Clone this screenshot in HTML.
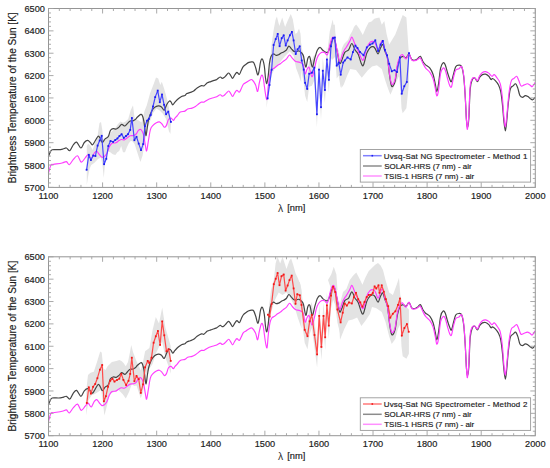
<!DOCTYPE html>
<html><head><meta charset="utf-8"><style>
html,body{margin:0;padding:0;background:#fff;}
svg{display:block;}
text{font-family:"Liberation Sans",sans-serif;fill:#1c1c1c;stroke:#1c1c1c;stroke-width:0.18px;}
.tk{font-size:9.2px;}
.yt{font-size:10.1px;}
.xt{font-size:9.3px;}
.lg{}
</style></head><body>
<svg width="550" height="468" viewBox="0 0 550 468">
<rect width="550" height="468" fill="#fff"/>
<polygon points="86.8,146.0 88.2,143.5 90.5,146.0 92.7,150.0 95.0,142.5 97.2,138.0 99.5,123.0 101.0,122.0 102.3,130.0 103.2,139.5 105.8,138.2 107.7,135.6 110.3,133.0 112.8,130.5 115.4,128.0 118.0,124.1 120.5,121.5 123.0,122.8 125.6,121.5 128.2,119.0 130.8,110.0 133.0,105.3 134.7,119.1 138.3,120.2 141.5,122.4 144.7,110.6 146.8,105.3 150.0,93.5 153.3,85.0 156.0,77.5 158.2,78.5 160.3,85.0 161.8,81.8 164.0,88.2 166.7,97.8 168.9,107.4 170.4,119.1 171.0,122.0 171.0,122.0 170.4,134.1 168.9,130.9 166.1,119.1 162.9,113.8 159.7,110.6 156.5,108.5 153.3,112.7 150.0,121.3 146.8,132.0 144.7,142.6 142.6,155.5 140.4,161.9 138.3,155.5 136.5,150.0 134.6,144.0 132.7,141.4 130.8,140.8 128.8,143.3 126.9,147.2 125.0,152.3 123.0,152.3 121.2,145.9 119.2,151.0 117.3,152.3 115.4,154.9 112.8,154.2 110.3,152.3 107.0,151.0 105.1,162.0 103.8,178.0 102.5,165.0 101.0,157.4 98.0,159.0 94.2,163.0 91.2,165.0 89.5,169.0 88.0,177.0 86.8,185.0" fill="#e3e3e3" stroke="none"/>
<polygon points="266.6,100.0 269.1,72.1 271.5,45.0 273.5,30.8 275.5,20.0 276.9,16.4 279.3,26.0 282.2,17.4 285.1,27.0 288.0,20.0 290.8,14.0 292.8,19.3 295.2,33.7 297.0,33.0 299.0,28.4 300.5,33.7 301.2,45.0 301.2,82.4 298.6,74.7 296.1,68.3 293.5,55.4 289.6,51.6 284.5,56.7 279.4,63.1 275.5,67.0 271.7,74.7 269.1,87.5 266.6,108.0" fill="#e3e3e3" stroke="none"/>
<polygon points="340.5,55.0 342.0,48.0 344.0,44.0 346.0,42.0 348.0,40.0 350.0,35.0 352.2,31.2 354.0,27.0 356.1,24.5 359.0,28.3 362.8,35.1 365.7,28.3 368.6,22.6 371.5,21.6 374.3,18.7 377.0,18.0 379.4,17.4 381.8,24.7 384.3,21.0 386.7,34.6 389.2,44.4 392.0,40.0 395.3,34.6 399.0,24.7 402.7,14.9 406.4,17.4 408.9,54.2 408.9,54.2 408.9,83.7 406.4,108.3 402.7,113.2 401.5,108.3 400.5,90.0 399.0,76.3 395.3,83.7 392.5,90.0 390.4,94.8 388.0,88.6 385.5,81.3 381.8,69.0 376.9,65.3 372.0,66.5 367.6,70.5 361.8,77.7 356.0,70.0 350.2,69.0 347.0,76.0 343.9,84.2 341.5,88.0 340.5,80.0" fill="#e3e3e3" stroke="none"/>
<polygon points="297.6,36.3 299.7,33.3 301.7,47.5 303.7,56.6 305.1,69.8 307.2,75.9 309.2,60.7 311.9,59.7 314.3,54.6 316.9,101.3 319.0,56.6 321.0,94.2 322.8,57.7 324.9,77.0 326.9,46.5 328.9,66.8 331.0,33.3 333.0,25.1 334.8,24.5 336.7,52.6 338.7,49.5 340.7,61.7 343.2,49.5 344.8,47.5 344.8,73.5 343.2,75.5 340.7,87.7 338.7,75.5 336.7,78.6 334.8,50.5 333.0,51.1 331.0,59.3 328.9,92.8 326.9,72.5 324.9,103.0 322.8,83.7 321.0,120.2 319.0,82.6 316.9,127.3 314.3,80.6 311.9,85.7 309.2,86.7 307.2,101.9 305.1,95.8 303.7,82.6 301.7,73.5 299.7,59.3 297.6,62.3" fill="#e3e3e3" stroke="none"/>
<polygon points="327.5,50.0 329.8,31.2 332.7,19.5 335.6,37.0 337.0,55.0 332.0,60.0" fill="#e3e3e3" stroke="none"/>
<path d="M48.40 157.00C48.68 156.23 49.47 153.62 50.10 152.40C50.73 151.18 50.77 150.15 52.20 149.70C53.63 149.25 56.90 149.82 58.70 149.70C60.50 149.58 61.72 149.28 63.00 149.00C64.28 148.72 65.27 147.72 66.40 148.00C67.53 148.28 68.67 151.20 69.80 150.70C70.93 150.20 72.07 146.43 73.20 145.00C74.33 143.57 75.32 141.60 76.60 142.10C77.88 142.60 79.62 147.93 80.90 148.00C82.18 148.07 83.17 143.77 84.30 142.50C85.43 141.23 86.67 140.35 87.70 140.40C88.73 140.45 89.68 142.07 90.50 142.80C91.32 143.53 91.83 145.10 92.60 144.80C93.37 144.50 94.17 142.43 95.10 141.00C96.03 139.57 97.33 136.62 98.20 136.20C99.07 135.78 99.60 137.47 100.30 138.50C101.00 139.53 101.60 142.35 102.40 142.40C103.20 142.45 104.12 139.78 105.10 138.80C106.08 137.82 107.42 137.88 108.30 136.50C109.18 135.12 109.60 131.80 110.40 130.50C111.20 129.20 112.12 128.95 113.10 128.70C114.08 128.45 115.32 129.27 116.30 129.00C117.28 128.73 118.10 127.87 119.00 127.10C119.90 126.33 120.72 124.58 121.70 124.40C122.68 124.22 123.93 126.17 124.90 126.00C125.87 125.83 126.62 124.23 127.50 123.40C128.38 122.57 129.28 121.43 130.20 121.00C131.12 120.57 132.15 121.05 133.00 120.80C133.85 120.55 134.55 120.13 135.30 119.50C136.05 118.87 136.60 117.85 137.50 117.00C138.40 116.15 139.90 114.67 140.70 114.40C141.50 114.13 141.77 114.25 142.30 115.40C142.83 116.55 143.45 118.87 143.90 121.30C144.35 123.73 144.63 127.63 145.00 130.00C145.37 132.37 145.73 135.83 146.10 135.50C146.47 135.17 146.77 130.72 147.20 128.00C147.63 125.28 148.00 121.92 148.70 119.20C149.40 116.48 150.42 113.67 151.40 111.70C152.38 109.73 153.45 108.38 154.60 107.40C155.75 106.42 157.15 105.88 158.30 105.80C159.45 105.72 160.52 106.18 161.50 106.90C162.48 107.62 163.30 110.55 164.20 110.10C165.10 109.65 166.02 105.72 166.90 104.20C167.78 102.68 168.80 101.35 169.50 101.00C170.20 100.65 170.57 101.47 171.10 102.10C171.63 102.73 172.05 104.80 172.70 104.80C173.35 104.80 174.02 103.15 175.00 102.10C175.98 101.05 177.43 99.48 178.60 98.50C179.77 97.52 180.95 96.70 182.00 96.20C183.05 95.70 184.10 95.93 184.90 95.50C185.70 95.07 185.90 94.12 186.80 93.60C187.70 93.08 189.15 92.83 190.30 92.40C191.45 91.97 192.57 91.73 193.70 91.00C194.83 90.27 195.82 88.90 197.10 88.00C198.38 87.10 200.27 85.95 201.40 85.60C202.53 85.25 202.90 86.37 203.90 85.90C204.90 85.43 206.25 83.52 207.40 82.80C208.55 82.08 209.67 82.00 210.80 81.60C211.93 81.20 213.20 80.77 214.20 80.40C215.20 80.03 215.80 79.97 216.80 79.40C217.80 78.83 219.33 77.18 220.20 77.00C221.07 76.82 221.37 78.20 222.00 78.30C222.63 78.40 223.25 78.15 224.00 77.60C224.75 77.05 225.72 75.77 226.50 75.00C227.28 74.23 228.00 72.92 228.70 73.00C229.40 73.08 230.05 74.62 230.70 75.50C231.35 76.38 231.93 78.38 232.60 78.30C233.27 78.22 233.98 76.00 234.70 75.00C235.42 74.00 236.13 72.40 236.90 72.30C237.67 72.20 238.58 74.68 239.30 74.40C240.02 74.12 240.55 71.88 241.20 70.60C241.85 69.32 242.40 67.75 243.20 66.70C244.00 65.65 245.05 65.02 246.00 64.30C246.95 63.58 247.90 62.80 248.90 62.40C249.90 62.00 251.18 61.83 252.00 61.90C252.82 61.97 253.15 61.70 253.80 62.80C254.45 63.90 255.27 66.50 255.90 68.50C256.53 70.50 257.10 74.23 257.60 74.80C258.10 75.37 258.40 74.10 258.90 71.90C259.40 69.70 260.02 63.73 260.60 61.60C261.18 59.47 261.78 58.37 262.40 59.10C263.02 59.83 263.78 62.85 264.30 66.00C264.82 69.15 265.08 75.08 265.50 78.00C265.92 80.92 266.33 84.00 266.80 83.50C267.27 83.00 267.85 78.42 268.30 75.00C268.75 71.58 269.05 66.08 269.50 63.00C269.95 59.92 270.33 58.02 271.00 56.50C271.67 54.98 272.67 54.10 273.50 53.90C274.33 53.70 275.15 55.15 276.00 55.30C276.85 55.45 277.73 55.17 278.60 54.80C279.47 54.43 280.35 53.58 281.20 53.10C282.05 52.62 282.85 52.38 283.70 51.90C284.55 51.42 285.45 51.15 286.30 50.20C287.15 49.25 287.95 46.43 288.80 46.20C289.65 45.97 290.53 47.93 291.40 48.80C292.27 49.67 293.15 50.95 294.00 51.40C294.85 51.85 295.67 51.57 296.50 51.50C297.33 51.43 298.13 50.75 299.00 51.00C299.87 51.25 300.95 52.17 301.70 53.00C302.45 53.83 302.82 53.67 303.50 56.00C304.18 58.33 305.08 66.58 305.80 67.00C306.52 67.42 307.13 60.17 307.80 58.50C308.47 56.83 309.05 55.58 309.80 57.00C310.55 58.42 311.48 66.75 312.30 67.00C313.12 67.25 313.87 61.28 314.70 58.50C315.53 55.72 316.42 52.17 317.30 50.30C318.18 48.43 319.08 47.30 320.00 47.30C320.92 47.30 321.78 49.45 322.80 50.30C323.82 51.15 325.15 52.23 326.10 52.40C327.05 52.57 327.68 52.83 328.50 51.30C329.32 49.77 330.25 45.33 331.00 43.20C331.75 41.07 332.33 38.83 333.00 38.50C333.67 38.17 334.22 38.55 335.00 41.20C335.78 43.85 336.92 50.68 337.70 54.40C338.48 58.12 339.03 62.48 339.70 63.50C340.37 64.52 340.85 62.35 341.70 60.50C342.55 58.65 343.65 54.17 344.80 52.40C345.95 50.63 347.43 51.38 348.60 49.90C349.77 48.42 350.73 43.50 351.80 43.50C352.87 43.50 353.93 48.12 355.00 49.90C356.07 51.68 357.13 51.88 358.20 54.20C359.27 56.52 360.52 62.02 361.40 63.80C362.28 65.58 362.60 66.68 363.50 64.90C364.40 63.12 365.72 55.95 366.80 53.10C367.88 50.25 368.93 48.87 370.00 47.80C371.07 46.73 372.32 46.53 373.20 46.70C374.08 46.87 374.48 47.62 375.30 48.80C376.12 49.98 377.22 53.97 378.10 53.80C378.98 53.63 379.82 49.33 380.60 47.80C381.38 46.27 382.08 44.07 382.80 44.60C383.52 45.13 384.12 48.68 384.90 51.00C385.68 53.32 386.72 54.40 387.50 58.50C388.28 62.60 388.97 71.15 389.60 75.60C390.23 80.05 390.73 83.43 391.30 85.20C391.87 86.97 392.35 86.92 393.00 86.20C393.65 85.48 394.48 84.10 395.20 80.90C395.92 77.70 396.52 70.73 397.30 67.00C398.08 63.27 398.93 60.28 399.90 58.50C400.87 56.72 402.08 56.38 403.10 56.30C404.12 56.22 405.02 58.35 406.00 58.00C406.98 57.65 408.03 53.95 409.00 54.20C409.97 54.45 410.80 58.50 411.80 59.50C412.80 60.50 414.05 60.30 415.00 60.20C415.95 60.10 416.62 59.55 417.50 58.90C418.38 58.25 419.37 55.83 420.30 56.30C421.23 56.77 422.22 60.27 423.10 61.70C423.98 63.13 424.47 63.83 425.60 64.90C426.73 65.97 428.65 66.50 429.90 68.10C431.15 69.70 432.20 71.83 433.10 74.50C434.00 77.17 434.68 81.25 435.30 84.10C435.92 86.95 436.27 91.60 436.80 91.60C437.33 91.60 437.87 88.02 438.50 84.10C439.13 80.18 439.82 71.67 440.60 68.10C441.38 64.53 442.42 63.23 443.20 62.70C443.98 62.17 444.62 63.35 445.30 64.90C445.98 66.45 446.60 69.73 447.30 72.00C448.00 74.27 448.82 76.88 449.50 78.50C450.18 80.12 450.73 82.42 451.40 81.70C452.07 80.98 452.78 76.70 453.50 74.20C454.22 71.70 454.80 68.20 455.70 66.70C456.60 65.20 457.90 65.20 458.90 65.20C459.90 65.20 460.88 64.67 461.70 66.70C462.52 68.73 463.20 72.23 463.80 77.40C464.40 82.57 464.87 90.75 465.30 97.70C465.73 104.65 466.05 114.12 466.40 119.10C466.75 124.08 467.00 127.62 467.40 127.60C467.80 127.58 468.33 125.42 468.80 119.00C469.27 112.58 469.60 95.68 470.20 89.10C470.80 82.52 471.62 81.35 472.40 79.50C473.18 77.65 474.05 77.63 474.90 78.00C475.75 78.37 476.72 81.80 477.50 81.70C478.28 81.60 478.78 78.58 479.60 77.40C480.42 76.22 481.40 75.13 482.40 74.60C483.40 74.07 484.53 73.92 485.60 74.20C486.67 74.48 487.90 75.42 488.80 76.30C489.70 77.18 490.38 79.13 491.00 79.50C491.62 79.87 491.78 78.32 492.50 78.50C493.22 78.68 494.30 79.53 495.30 80.60C496.30 81.67 497.60 83.12 498.50 84.90C499.40 86.68 500.05 88.10 500.70 91.30C501.35 94.50 501.87 99.12 502.40 104.10C502.93 109.08 503.40 116.75 503.90 121.20C504.40 125.65 504.93 130.80 505.40 130.80C505.87 130.80 506.23 125.65 506.70 121.20C507.17 116.75 507.60 109.45 508.20 104.10C508.80 98.75 509.48 92.13 510.30 89.10C511.12 86.07 512.22 86.78 513.10 85.90C513.98 85.02 514.82 83.43 515.60 83.80C516.38 84.17 517.08 86.13 517.80 88.10C518.52 90.07 519.12 94.07 519.90 95.60C520.68 97.13 521.60 97.30 522.50 97.30C523.40 97.30 524.38 95.72 525.30 95.60C526.22 95.48 527.12 96.07 528.00 96.60C528.88 97.13 529.82 98.27 530.60 98.80C531.38 99.33 531.97 100.05 532.70 99.80C533.43 99.55 534.62 97.72 535.00 97.30" fill="none" stroke="#454545" stroke-width="1.2" stroke-linejoin="round"/>
<path d="M48.40 173.20C48.83 171.83 50.15 166.47 51.00 165.00C51.85 163.53 51.65 164.73 53.50 164.40C55.35 164.07 59.95 163.47 62.10 163.00C64.25 162.53 65.20 161.32 66.40 161.60C67.60 161.88 68.17 165.03 69.30 164.70C70.43 164.37 71.83 161.08 73.20 159.60C74.57 158.12 76.17 155.38 77.50 155.80C78.83 156.22 79.92 161.75 81.20 162.10C82.48 162.45 84.05 159.12 85.20 157.90C86.35 156.68 87.10 154.67 88.10 154.80C89.10 154.93 90.17 159.00 91.20 158.70C92.23 158.40 93.37 154.23 94.30 153.00C95.23 151.77 95.95 151.02 96.80 151.30C97.65 151.58 98.53 153.70 99.40 154.70C100.27 155.70 101.18 157.00 102.00 157.30C102.82 157.60 103.52 157.08 104.30 156.50C105.08 155.92 105.85 155.42 106.70 153.80C107.55 152.18 108.52 148.55 109.40 146.80C110.28 145.05 110.93 143.97 112.00 143.30C113.07 142.63 114.63 143.25 115.80 142.80C116.97 142.35 118.05 141.15 119.00 140.60C119.95 140.05 120.62 139.62 121.50 139.50C122.38 139.38 123.38 140.15 124.30 139.90C125.22 139.65 126.02 138.68 127.00 138.00C127.98 137.32 129.10 136.22 130.20 135.80C131.30 135.38 132.60 135.80 133.60 135.50C134.60 135.20 135.40 134.85 136.20 134.00C137.00 133.15 137.60 131.13 138.40 130.40C139.20 129.67 140.15 128.88 141.00 129.60C141.85 130.32 142.78 132.13 143.50 134.70C144.22 137.27 144.78 142.30 145.30 145.00C145.82 147.70 146.10 151.48 146.60 150.90C147.10 150.32 147.67 145.05 148.30 141.50C148.93 137.95 149.62 132.30 150.40 129.60C151.18 126.90 152.00 126.45 153.00 125.30C154.00 124.15 155.33 123.27 156.40 122.70C157.47 122.13 158.47 121.68 159.40 121.90C160.33 122.12 161.20 123.12 162.00 124.00C162.80 124.88 163.48 126.93 164.20 127.20C164.92 127.47 165.58 126.88 166.30 125.60C167.02 124.32 167.70 120.75 168.50 119.50C169.30 118.25 170.30 117.97 171.10 118.10C171.90 118.23 172.65 120.30 173.30 120.30C173.95 120.30 174.38 118.82 175.00 118.10C175.62 117.38 176.12 117.00 177.00 116.00C177.88 115.00 178.98 112.92 180.30 112.10C181.62 111.28 183.67 111.62 184.90 111.10C186.13 110.58 186.52 109.50 187.70 109.00C188.88 108.50 190.72 108.53 192.00 108.10C193.28 107.67 194.27 107.12 195.40 106.40C196.53 105.68 197.80 104.52 198.80 103.80C199.80 103.08 200.55 102.38 201.40 102.10C202.25 101.82 202.90 102.47 203.90 102.10C204.90 101.73 206.12 100.55 207.40 99.90C208.68 99.25 210.18 98.68 211.60 98.20C213.02 97.72 214.47 97.57 215.90 97.00C217.33 96.43 219.18 94.95 220.20 94.80C221.22 94.65 221.37 95.98 222.00 96.10C222.63 96.22 223.28 95.98 224.00 95.50C224.72 95.02 225.52 93.95 226.30 93.20C227.08 92.45 227.97 90.95 228.70 91.00C229.43 91.05 230.05 92.58 230.70 93.50C231.35 94.42 231.93 96.58 232.60 96.50C233.27 96.42 233.98 94.03 234.70 93.00C235.42 91.97 236.13 90.43 236.90 90.30C237.67 90.17 238.58 92.45 239.30 92.20C240.02 91.95 240.55 90.08 241.20 88.80C241.85 87.52 242.40 85.53 243.20 84.50C244.00 83.47 245.05 83.23 246.00 82.60C246.95 81.97 247.90 81.18 248.90 80.70C249.90 80.22 250.90 79.03 252.00 79.70C253.10 80.37 254.57 82.73 255.50 84.70C256.43 86.67 256.97 91.78 257.60 91.50C258.23 91.22 258.65 85.70 259.30 83.00C259.95 80.30 260.85 76.15 261.50 75.30C262.15 74.45 262.72 76.05 263.20 77.90C263.68 79.75 263.97 83.42 264.40 86.40C264.83 89.38 265.35 93.67 265.80 95.80C266.25 97.93 266.68 100.77 267.10 99.20C267.52 97.63 267.82 90.53 268.30 86.40C268.78 82.27 269.42 77.18 270.00 74.40C270.58 71.62 271.05 70.77 271.80 69.70C272.55 68.63 273.55 68.70 274.50 68.00C275.45 67.30 276.53 66.20 277.50 65.50C278.47 64.80 279.40 64.45 280.30 63.80C281.20 63.15 281.90 62.38 282.90 61.60C283.90 60.82 285.20 60.20 286.30 59.10C287.40 58.00 288.50 55.15 289.50 55.00C290.50 54.85 291.47 57.28 292.30 58.20C293.13 59.12 293.88 59.95 294.50 60.50C295.12 61.05 295.07 61.17 296.00 61.50C296.93 61.83 298.92 61.98 300.10 62.50C301.28 63.02 302.27 62.73 303.10 64.60C303.93 66.47 304.42 72.97 305.10 73.70C305.78 74.43 306.52 70.02 307.20 69.00C307.88 67.98 308.42 66.32 309.20 67.60C309.98 68.88 311.05 76.37 311.90 76.70C312.75 77.03 313.57 72.30 314.30 69.60C315.03 66.90 315.62 62.87 316.30 60.50C316.98 58.13 317.55 56.75 318.40 55.40C319.25 54.05 320.38 52.90 321.40 52.40C322.42 51.90 323.48 52.07 324.50 52.40C325.52 52.73 326.48 56.10 327.50 54.40C328.52 52.70 329.68 45.08 330.60 42.20C331.52 39.32 332.27 37.43 333.00 37.10C333.73 36.77 334.22 37.48 335.00 40.20C335.78 42.92 336.92 49.85 337.70 53.40C338.48 56.95 338.93 61.33 339.70 61.50C340.47 61.67 341.45 56.43 342.30 54.40C343.15 52.37 344.18 50.40 344.80 49.30C345.42 48.20 345.18 49.12 346.00 47.80C346.82 46.48 348.73 43.18 349.70 41.40C350.67 39.62 351.10 37.10 351.80 37.10C352.50 37.10 353.28 40.00 353.90 41.40C354.52 42.80 354.78 43.90 355.50 45.50C356.22 47.10 357.22 48.83 358.20 51.00C359.18 53.17 360.52 57.08 361.40 58.50C362.28 59.92 362.60 61.28 363.50 59.50C364.40 57.72 365.72 50.65 366.80 47.80C367.88 44.95 368.93 43.47 370.00 42.40C371.07 41.33 372.32 41.22 373.20 41.40C374.08 41.58 374.48 42.08 375.30 43.50C376.12 44.92 377.22 49.90 378.10 49.90C378.98 49.90 379.82 45.00 380.60 43.50C381.38 42.00 382.08 39.83 382.80 40.90C383.52 41.97 384.12 46.97 384.90 49.90C385.68 52.83 386.72 54.40 387.50 58.50C388.28 62.60 388.97 70.42 389.60 74.50C390.23 78.58 390.73 81.40 391.30 83.00C391.87 84.60 392.35 84.80 393.00 84.10C393.65 83.40 394.48 82.00 395.20 78.80C395.92 75.60 396.52 68.57 397.30 64.90C398.08 61.23 399.05 58.52 399.90 56.80C400.75 55.08 401.38 54.25 402.40 54.60C403.42 54.95 404.90 59.03 406.00 58.90C407.10 58.77 408.03 53.58 409.00 53.80C409.97 54.02 410.80 59.07 411.80 60.20C412.80 61.33 414.05 60.72 415.00 60.60C415.95 60.48 416.62 59.93 417.50 59.50C418.38 59.07 419.37 57.28 420.30 58.00C421.23 58.72 422.22 62.12 423.10 63.80C423.98 65.48 424.47 66.67 425.60 68.10C426.73 69.53 428.65 70.62 429.90 72.40C431.15 74.18 432.20 76.13 433.10 78.80C434.00 81.47 434.68 85.55 435.30 88.40C435.92 91.25 436.27 95.55 436.80 95.90C437.33 96.25 437.87 94.25 438.50 90.50C439.13 86.75 439.82 77.13 440.60 73.40C441.38 69.67 442.42 68.63 443.20 68.10C443.98 67.57 444.60 68.55 445.30 70.20C446.00 71.85 446.73 75.62 447.40 78.00C448.07 80.38 448.63 83.00 449.30 84.50C449.97 86.00 450.70 88.18 451.40 87.00C452.10 85.82 452.78 80.18 453.50 77.40C454.22 74.62 454.80 71.73 455.70 70.30C456.60 68.87 457.90 69.40 458.90 68.80C459.90 68.20 460.88 65.45 461.70 66.70C462.52 67.95 463.20 71.13 463.80 76.30C464.40 81.47 464.87 90.57 465.30 97.70C465.73 104.83 466.05 113.83 466.40 119.10C466.75 124.37 467.00 129.98 467.40 129.30C467.80 128.62 468.33 122.22 468.80 115.00C469.27 107.78 469.60 92.08 470.20 86.00C470.80 79.92 471.62 79.83 472.40 78.50C473.18 77.17 474.05 77.65 474.90 78.00C475.75 78.35 476.72 80.95 477.50 80.60C478.28 80.25 478.78 77.25 479.60 75.90C480.42 74.55 481.40 73.22 482.40 72.50C483.40 71.78 484.53 71.50 485.60 71.60C486.67 71.70 487.98 72.53 488.80 73.10C489.62 73.67 489.95 74.47 490.50 75.00C491.05 75.53 491.47 76.37 492.10 76.30C492.73 76.23 493.40 74.23 494.30 74.60C495.20 74.97 496.50 76.97 497.50 78.50C498.50 80.03 499.48 80.60 500.30 83.80C501.12 87.00 501.80 92.18 502.40 97.70C503.00 103.22 503.40 112.10 503.90 116.90C504.40 121.70 504.87 127.22 505.40 126.50C505.93 125.78 506.47 118.47 507.10 112.60C507.73 106.73 508.48 96.63 509.20 91.30C509.92 85.97 510.62 82.73 511.40 80.60C512.18 78.47 513.02 79.22 513.90 78.50C514.78 77.78 515.88 75.95 516.70 76.30C517.52 76.65 518.08 79.00 518.80 80.60C519.52 82.20 520.10 85.18 521.00 85.90C521.90 86.62 523.13 85.25 524.20 84.90C525.27 84.55 526.40 83.73 527.40 83.80C528.40 83.87 529.38 84.83 530.20 85.30C531.02 85.77 531.50 87.03 532.30 86.60C533.10 86.17 534.55 83.35 535.00 82.70" fill="none" stroke="#ff3dff" stroke-width="1.15" stroke-linejoin="round"/>
<polyline points="86.6,169.8 88.8,154.8 90.9,160.0 93.2,155.5 95.4,156.0 97.6,145.6 99.7,140.5 101.7,135.8 104.1,164.2 106.3,158.8 108.3,146.0 110.5,141.0 113.1,141.9 115.3,140.0 117.4,138.5 119.5,136.0 121.6,134.2 123.8,137.9 126.0,136.0 128.0,134.2 130.2,129.9 131.9,118.0 134.4,140.2 136.5,136.8 138.7,143.6 141.0,150.1 143.2,144.1 144.9,126.2 147.0,120.7 148.8,119.0 150.7,115.0 153.0,106.5 155.2,97.1 157.7,90.6 159.8,102.2 162.0,94.5 164.1,104.8 166.1,114.2 168.3,111.6 170.9,121.9" fill="none" stroke="#4646ff" stroke-width="1.2" stroke-linejoin="round"/>
<rect x="85.7" y="168.9" width="1.8" height="1.8" fill="#1c1cf0"/>
<rect x="87.9" y="153.9" width="1.8" height="1.8" fill="#1c1cf0"/>
<rect x="90.0" y="159.1" width="1.8" height="1.8" fill="#1c1cf0"/>
<rect x="92.3" y="154.6" width="1.8" height="1.8" fill="#1c1cf0"/>
<rect x="94.5" y="155.1" width="1.8" height="1.8" fill="#1c1cf0"/>
<rect x="96.7" y="144.7" width="1.8" height="1.8" fill="#1c1cf0"/>
<rect x="98.8" y="139.6" width="1.8" height="1.8" fill="#1c1cf0"/>
<rect x="100.8" y="134.9" width="1.8" height="1.8" fill="#1c1cf0"/>
<rect x="103.2" y="163.3" width="1.8" height="1.8" fill="#1c1cf0"/>
<rect x="105.4" y="157.9" width="1.8" height="1.8" fill="#1c1cf0"/>
<rect x="107.4" y="145.1" width="1.8" height="1.8" fill="#1c1cf0"/>
<rect x="109.6" y="140.1" width="1.8" height="1.8" fill="#1c1cf0"/>
<rect x="112.2" y="141.0" width="1.8" height="1.8" fill="#1c1cf0"/>
<rect x="114.4" y="139.1" width="1.8" height="1.8" fill="#1c1cf0"/>
<rect x="116.5" y="137.6" width="1.8" height="1.8" fill="#1c1cf0"/>
<rect x="118.6" y="135.1" width="1.8" height="1.8" fill="#1c1cf0"/>
<rect x="120.7" y="133.3" width="1.8" height="1.8" fill="#1c1cf0"/>
<rect x="122.9" y="137.0" width="1.8" height="1.8" fill="#1c1cf0"/>
<rect x="125.1" y="135.1" width="1.8" height="1.8" fill="#1c1cf0"/>
<rect x="127.1" y="133.3" width="1.8" height="1.8" fill="#1c1cf0"/>
<rect x="129.3" y="129.0" width="1.8" height="1.8" fill="#1c1cf0"/>
<rect x="131.0" y="117.1" width="1.8" height="1.8" fill="#1c1cf0"/>
<rect x="133.5" y="139.3" width="1.8" height="1.8" fill="#1c1cf0"/>
<rect x="135.6" y="135.9" width="1.8" height="1.8" fill="#1c1cf0"/>
<rect x="137.8" y="142.7" width="1.8" height="1.8" fill="#1c1cf0"/>
<rect x="140.1" y="149.2" width="1.8" height="1.8" fill="#1c1cf0"/>
<rect x="142.3" y="143.2" width="1.8" height="1.8" fill="#1c1cf0"/>
<rect x="144.0" y="125.3" width="1.8" height="1.8" fill="#1c1cf0"/>
<rect x="146.1" y="119.8" width="1.8" height="1.8" fill="#1c1cf0"/>
<rect x="147.9" y="118.1" width="1.8" height="1.8" fill="#1c1cf0"/>
<rect x="149.8" y="114.1" width="1.8" height="1.8" fill="#1c1cf0"/>
<rect x="152.1" y="105.6" width="1.8" height="1.8" fill="#1c1cf0"/>
<rect x="154.3" y="96.2" width="1.8" height="1.8" fill="#1c1cf0"/>
<rect x="156.8" y="89.7" width="1.8" height="1.8" fill="#1c1cf0"/>
<rect x="158.9" y="101.3" width="1.8" height="1.8" fill="#1c1cf0"/>
<rect x="161.1" y="93.6" width="1.8" height="1.8" fill="#1c1cf0"/>
<rect x="163.2" y="103.9" width="1.8" height="1.8" fill="#1c1cf0"/>
<rect x="165.2" y="113.3" width="1.8" height="1.8" fill="#1c1cf0"/>
<rect x="167.4" y="110.7" width="1.8" height="1.8" fill="#1c1cf0"/>
<rect x="170.0" y="121.0" width="1.8" height="1.8" fill="#1c1cf0"/>
<polyline points="267.6,98.4 269.5,85.0 271.6,69.8 273.6,45.0 275.7,39.1 277.7,33.9 279.6,46.2 281.7,38.2 283.7,35.3 285.7,45.5 287.6,40.4 289.9,35.3 291.9,31.9 293.6,40.4 295.7,54.0 297.6,49.3 299.7,46.3 301.7,60.5 303.7,69.6 305.1,82.8 307.2,88.9 309.2,73.7 311.9,72.7 314.3,67.6 316.9,114.3 319.0,69.6 321.0,107.2 322.8,70.7 324.9,90.0 326.9,59.5 328.9,79.8 331.0,46.3 333.0,38.1 334.8,37.5 336.7,65.6 338.7,62.5 340.7,74.7 343.2,62.5 344.8,60.5 347.5,57.4 350.7,59.5 352.9,52.1 355.4,45.6 357.5,48.0 360.0,52.0 363.5,55.3 366.8,47.4 370.0,44.6 372.5,43.5 375.3,40.3 378.1,51.0 380.6,44.6 382.8,40.9 384.9,49.9 387.1,55.3 389.2,63.8 391.8,71.3 394.5,70.2 397.0,72.0 399.9,57.4 401.7,93.7 404.3,86.2 406.8,82.0 409.0,53.1" fill="none" stroke="#4646ff" stroke-width="1.2" stroke-linejoin="round"/>
<rect x="266.7" y="97.5" width="1.8" height="1.8" fill="#1c1cf0"/>
<rect x="268.6" y="84.1" width="1.8" height="1.8" fill="#1c1cf0"/>
<rect x="270.7" y="68.9" width="1.8" height="1.8" fill="#1c1cf0"/>
<rect x="272.7" y="44.1" width="1.8" height="1.8" fill="#1c1cf0"/>
<rect x="274.8" y="38.2" width="1.8" height="1.8" fill="#1c1cf0"/>
<rect x="276.8" y="33.0" width="1.8" height="1.8" fill="#1c1cf0"/>
<rect x="278.7" y="45.3" width="1.8" height="1.8" fill="#1c1cf0"/>
<rect x="280.8" y="37.3" width="1.8" height="1.8" fill="#1c1cf0"/>
<rect x="282.8" y="34.4" width="1.8" height="1.8" fill="#1c1cf0"/>
<rect x="284.8" y="44.6" width="1.8" height="1.8" fill="#1c1cf0"/>
<rect x="286.7" y="39.5" width="1.8" height="1.8" fill="#1c1cf0"/>
<rect x="289.0" y="34.4" width="1.8" height="1.8" fill="#1c1cf0"/>
<rect x="291.0" y="31.0" width="1.8" height="1.8" fill="#1c1cf0"/>
<rect x="292.7" y="39.5" width="1.8" height="1.8" fill="#1c1cf0"/>
<rect x="294.8" y="53.1" width="1.8" height="1.8" fill="#1c1cf0"/>
<rect x="296.7" y="48.4" width="1.8" height="1.8" fill="#1c1cf0"/>
<rect x="298.8" y="45.4" width="1.8" height="1.8" fill="#1c1cf0"/>
<rect x="300.8" y="59.6" width="1.8" height="1.8" fill="#1c1cf0"/>
<rect x="302.8" y="68.7" width="1.8" height="1.8" fill="#1c1cf0"/>
<rect x="304.2" y="81.9" width="1.8" height="1.8" fill="#1c1cf0"/>
<rect x="306.3" y="88.0" width="1.8" height="1.8" fill="#1c1cf0"/>
<rect x="308.3" y="72.8" width="1.8" height="1.8" fill="#1c1cf0"/>
<rect x="311.0" y="71.8" width="1.8" height="1.8" fill="#1c1cf0"/>
<rect x="313.4" y="66.7" width="1.8" height="1.8" fill="#1c1cf0"/>
<rect x="316.0" y="113.4" width="1.8" height="1.8" fill="#1c1cf0"/>
<rect x="318.1" y="68.7" width="1.8" height="1.8" fill="#1c1cf0"/>
<rect x="320.1" y="106.3" width="1.8" height="1.8" fill="#1c1cf0"/>
<rect x="321.9" y="69.8" width="1.8" height="1.8" fill="#1c1cf0"/>
<rect x="324.0" y="89.1" width="1.8" height="1.8" fill="#1c1cf0"/>
<rect x="326.0" y="58.6" width="1.8" height="1.8" fill="#1c1cf0"/>
<rect x="328.0" y="78.9" width="1.8" height="1.8" fill="#1c1cf0"/>
<rect x="330.1" y="45.4" width="1.8" height="1.8" fill="#1c1cf0"/>
<rect x="332.1" y="37.2" width="1.8" height="1.8" fill="#1c1cf0"/>
<rect x="333.9" y="36.6" width="1.8" height="1.8" fill="#1c1cf0"/>
<rect x="335.8" y="64.7" width="1.8" height="1.8" fill="#1c1cf0"/>
<rect x="337.8" y="61.6" width="1.8" height="1.8" fill="#1c1cf0"/>
<rect x="339.8" y="73.8" width="1.8" height="1.8" fill="#1c1cf0"/>
<rect x="342.3" y="61.6" width="1.8" height="1.8" fill="#1c1cf0"/>
<rect x="343.9" y="59.6" width="1.8" height="1.8" fill="#1c1cf0"/>
<rect x="346.6" y="56.5" width="1.8" height="1.8" fill="#1c1cf0"/>
<rect x="349.8" y="58.6" width="1.8" height="1.8" fill="#1c1cf0"/>
<rect x="352.0" y="51.2" width="1.8" height="1.8" fill="#1c1cf0"/>
<rect x="354.5" y="44.7" width="1.8" height="1.8" fill="#1c1cf0"/>
<rect x="356.6" y="47.1" width="1.8" height="1.8" fill="#1c1cf0"/>
<rect x="359.1" y="51.1" width="1.8" height="1.8" fill="#1c1cf0"/>
<rect x="362.6" y="54.4" width="1.8" height="1.8" fill="#1c1cf0"/>
<rect x="365.9" y="46.5" width="1.8" height="1.8" fill="#1c1cf0"/>
<rect x="369.1" y="43.7" width="1.8" height="1.8" fill="#1c1cf0"/>
<rect x="371.6" y="42.6" width="1.8" height="1.8" fill="#1c1cf0"/>
<rect x="374.4" y="39.4" width="1.8" height="1.8" fill="#1c1cf0"/>
<rect x="377.2" y="50.1" width="1.8" height="1.8" fill="#1c1cf0"/>
<rect x="379.7" y="43.7" width="1.8" height="1.8" fill="#1c1cf0"/>
<rect x="381.9" y="40.0" width="1.8" height="1.8" fill="#1c1cf0"/>
<rect x="384.0" y="49.0" width="1.8" height="1.8" fill="#1c1cf0"/>
<rect x="386.2" y="54.4" width="1.8" height="1.8" fill="#1c1cf0"/>
<rect x="388.3" y="62.9" width="1.8" height="1.8" fill="#1c1cf0"/>
<rect x="390.9" y="70.4" width="1.8" height="1.8" fill="#1c1cf0"/>
<rect x="393.6" y="69.3" width="1.8" height="1.8" fill="#1c1cf0"/>
<rect x="396.1" y="71.1" width="1.8" height="1.8" fill="#1c1cf0"/>
<rect x="399.0" y="56.5" width="1.8" height="1.8" fill="#1c1cf0"/>
<rect x="400.8" y="92.8" width="1.8" height="1.8" fill="#1c1cf0"/>
<rect x="403.4" y="85.3" width="1.8" height="1.8" fill="#1c1cf0"/>
<rect x="405.9" y="81.1" width="1.8" height="1.8" fill="#1c1cf0"/>
<rect x="408.1" y="52.2" width="1.8" height="1.8" fill="#1c1cf0"/>
<rect x="48.5" y="8.5" width="486.8" height="178.9" fill="none" stroke="#959595" stroke-width="1"/>
<path d="M48.50 187.4v-5M48.50 8.5v5M59.32 187.4v-2.5M59.32 8.5v2.5M70.14 187.4v-2.5M70.14 8.5v2.5M80.95 187.4v-2.5M80.95 8.5v2.5M91.77 187.4v-2.5M91.77 8.5v2.5M102.59 187.4v-5M102.59 8.5v5M113.41 187.4v-2.5M113.41 8.5v2.5M124.22 187.4v-2.5M124.22 8.5v2.5M135.04 187.4v-2.5M135.04 8.5v2.5M145.86 187.4v-2.5M145.86 8.5v2.5M156.68 187.4v-5M156.68 8.5v5M167.50 187.4v-2.5M167.50 8.5v2.5M178.31 187.4v-2.5M178.31 8.5v2.5M189.13 187.4v-2.5M189.13 8.5v2.5M199.95 187.4v-2.5M199.95 8.5v2.5M210.77 187.4v-5M210.77 8.5v5M221.58 187.4v-2.5M221.58 8.5v2.5M232.40 187.4v-2.5M232.40 8.5v2.5M243.22 187.4v-2.5M243.22 8.5v2.5M254.04 187.4v-2.5M254.04 8.5v2.5M264.86 187.4v-5M264.86 8.5v5M275.67 187.4v-2.5M275.67 8.5v2.5M286.49 187.4v-2.5M286.49 8.5v2.5M297.31 187.4v-2.5M297.31 8.5v2.5M308.13 187.4v-2.5M308.13 8.5v2.5M318.94 187.4v-5M318.94 8.5v5M329.76 187.4v-2.5M329.76 8.5v2.5M340.58 187.4v-2.5M340.58 8.5v2.5M351.40 187.4v-2.5M351.40 8.5v2.5M362.22 187.4v-2.5M362.22 8.5v2.5M373.03 187.4v-5M373.03 8.5v5M383.85 187.4v-2.5M383.85 8.5v2.5M394.67 187.4v-2.5M394.67 8.5v2.5M405.49 187.4v-2.5M405.49 8.5v2.5M416.30 187.4v-2.5M416.30 8.5v2.5M427.12 187.4v-5M427.12 8.5v5M437.94 187.4v-2.5M437.94 8.5v2.5M448.76 187.4v-2.5M448.76 8.5v2.5M459.58 187.4v-2.5M459.58 8.5v2.5M470.39 187.4v-2.5M470.39 8.5v2.5M481.21 187.4v-5M481.21 8.5v5M492.03 187.4v-2.5M492.03 8.5v2.5M502.85 187.4v-2.5M502.85 8.5v2.5M513.66 187.4v-2.5M513.66 8.5v2.5M524.48 187.4v-2.5M524.48 8.5v2.5M535.30 187.4v-5M535.30 8.5v5M48.5 8.50h5M535.3 8.50h-5M48.5 12.97h2.5M535.3 12.97h-2.5M48.5 17.45h2.5M535.3 17.45h-2.5M48.5 21.92h2.5M535.3 21.92h-2.5M48.5 26.39h2.5M535.3 26.39h-2.5M48.5 30.86h5M535.3 30.86h-5M48.5 35.34h2.5M535.3 35.34h-2.5M48.5 39.81h2.5M535.3 39.81h-2.5M48.5 44.28h2.5M535.3 44.28h-2.5M48.5 48.75h2.5M535.3 48.75h-2.5M48.5 53.23h5M535.3 53.23h-5M48.5 57.70h2.5M535.3 57.70h-2.5M48.5 62.17h2.5M535.3 62.17h-2.5M48.5 66.64h2.5M535.3 66.64h-2.5M48.5 71.11h2.5M535.3 71.11h-2.5M48.5 75.59h5M535.3 75.59h-5M48.5 80.06h2.5M535.3 80.06h-2.5M48.5 84.53h2.5M535.3 84.53h-2.5M48.5 89.01h2.5M535.3 89.01h-2.5M48.5 93.48h2.5M535.3 93.48h-2.5M48.5 97.95h5M535.3 97.95h-5M48.5 102.42h2.5M535.3 102.42h-2.5M48.5 106.90h2.5M535.3 106.90h-2.5M48.5 111.37h2.5M535.3 111.37h-2.5M48.5 115.84h2.5M535.3 115.84h-2.5M48.5 120.31h5M535.3 120.31h-5M48.5 124.79h2.5M535.3 124.79h-2.5M48.5 129.26h2.5M535.3 129.26h-2.5M48.5 133.73h2.5M535.3 133.73h-2.5M48.5 138.20h2.5M535.3 138.20h-2.5M48.5 142.68h5M535.3 142.68h-5M48.5 147.15h2.5M535.3 147.15h-2.5M48.5 151.62h2.5M535.3 151.62h-2.5M48.5 156.09h2.5M535.3 156.09h-2.5M48.5 160.56h2.5M535.3 160.56h-2.5M48.5 165.04h5M535.3 165.04h-5M48.5 169.51h2.5M535.3 169.51h-2.5M48.5 173.98h2.5M535.3 173.98h-2.5M48.5 178.45h2.5M535.3 178.45h-2.5M48.5 182.93h2.5M535.3 182.93h-2.5M48.5 187.40h5M535.3 187.40h-5" stroke="#a0a0a0" stroke-width="0.9" fill="none"/>
<text x="48.5" y="198.6" text-anchor="middle" class="tk">1100</text>
<text x="102.6" y="198.6" text-anchor="middle" class="tk">1200</text>
<text x="156.7" y="198.6" text-anchor="middle" class="tk">1300</text>
<text x="210.8" y="198.6" text-anchor="middle" class="tk">1400</text>
<text x="264.9" y="198.6" text-anchor="middle" class="tk">1500</text>
<text x="318.9" y="198.6" text-anchor="middle" class="tk">1600</text>
<text x="373.0" y="198.6" text-anchor="middle" class="tk">1700</text>
<text x="427.1" y="198.6" text-anchor="middle" class="tk">1800</text>
<text x="481.2" y="198.6" text-anchor="middle" class="tk">1900</text>
<text x="535.3" y="198.6" text-anchor="middle" class="tk">2000</text>
<text x="44.9" y="12.0" text-anchor="end" class="tk">6500</text>
<text x="44.9" y="34.4" text-anchor="end" class="tk">6400</text>
<text x="44.9" y="56.7" text-anchor="end" class="tk">6300</text>
<text x="44.9" y="79.1" text-anchor="end" class="tk">6200</text>
<text x="44.9" y="101.5" text-anchor="end" class="tk">6100</text>
<text x="44.9" y="123.8" text-anchor="end" class="tk">6000</text>
<text x="44.9" y="146.2" text-anchor="end" class="tk">5900</text>
<text x="44.9" y="168.5" text-anchor="end" class="tk">5800</text>
<text x="44.9" y="190.9" text-anchor="end" class="tk">5700</text>
<text transform="translate(15.5,97.8) rotate(-90)" text-anchor="middle" class="yt">Brightness Temperature of the Sun [K]</text>
<text x="278.1" y="211.5" style="font-family:Liberation Sans,sans-serif;font-size:10.3px;fill:#333;stroke-width:0">&#955;</text>
<text x="287.2" y="210.8" class="xt">[nm]</text>
<rect x="360.3" y="149.5" width="170.3" height="32.6" fill="#fff" stroke="#9a9a9a" stroke-width="0.9"/>
<line x1="363" y1="155.7" x2="381.7" y2="155.7" stroke="#8080ff" stroke-width="1.5"/>
<rect x="371.5" y="154.9" width="1.6" height="1.6" fill="#1c1cf0"/>
<text x="383.76" y="158.7" class="lg" font-size="7.95px" letter-spacing="0.2">Uvsq-Sat NG Spectrometer - Method 1</text>
<line x1="363" y1="166.0" x2="381.7" y2="166.0" stroke="#8c8c8c" stroke-width="1.5"/>
<text x="384.24" y="169.0" class="lg" font-size="7.95px">SOLAR-HRS (7 nm) - air</text>
<line x1="363" y1="176.0" x2="381.7" y2="176.0" stroke="#ff90ff" stroke-width="1.5"/>
<text x="384.24" y="179.0" class="lg" font-size="7.95px">TSIS-1 HSRS (7 nm) - air</text>
<polygon points="86.3,389.8 88.0,374.9 90.5,372.7 93.8,371.7 97.0,362.0 100.2,351.4 101.7,352.4 103.4,368.5 105.5,370.0 107.6,366.3 111.9,362.0 116.2,361.0 119.4,359.9 121.5,361.0 123.5,363.0 125.8,366.3 128.0,362.0 130.1,351.4 131.2,344.9 133.0,352.0 136.0,360.0 140.8,370.5 143.0,362.0 145.1,351.3 149.4,348.0 152.6,329.9 155.8,317.1 159.0,323.5 162.2,307.5 165.4,327.8 168.6,338.5 170.7,345.9 170.7,373.7 168.6,366.2 165.4,357.7 162.2,341.7 159.0,347.0 155.8,353.4 152.6,364.1 149.4,368.4 146.2,374.8 143.0,392.0 140.8,398.3 136.5,385.5 134.0,386.0 132.0,383.4 129.0,392.0 125.8,398.4 122.6,394.1 118.3,389.8 114.1,392.0 109.8,394.1 106.6,406.9 104.4,415.5 103.4,406.9 101.2,389.8 98.0,392.0 94.8,394.1 91.6,395.2 88.4,400.5 86.3,415.5" fill="#e3e3e3" stroke="none"/>
<polygon points="268.5,320.0 269.2,305.3 271.0,290.0 273.8,280.0 275.6,263.6 277.5,256.8 280.2,263.6 282.5,256.8 284.7,263.6 286.5,269.0 289.3,260.9 291.1,258.2 293.4,265.5 295.6,273.6 297.5,277.3 300.5,284.8 301.5,290.0 301.5,328.4 300.0,324.0 297.9,318.1 294.1,305.3 290.2,297.6 286.4,292.5 282.5,295.0 278.7,292.5 274.8,300.2 271.0,313.0 268.4,328.4" fill="#e3e3e3" stroke="none"/>
<polygon points="338.9,300.0 340.0,303.5 343.0,292.0 346.4,289.0 349.7,280.2 353.0,275.8 356.3,272.4 359.7,279.1 362.4,284.7 365.2,278.0 368.6,271.3 371.9,268.0 375.2,264.7 378.0,263.0 380.6,265.4 383.0,270.0 385.5,280.1 389.2,292.4 392.9,294.9 396.6,285.0 399.0,277.7 400.3,294.9 402.7,304.7 406.4,307.1 408.9,309.6 408.9,353.8 406.4,358.7 402.7,356.3 401.5,346.5 400.3,324.3 397.8,329.3 395.3,339.1 391.7,344.0 389.2,336.6 385.5,321.9 381.8,312.0 376.0,308.0 372.0,307.1 369.9,314.1 365.6,320.6 361.4,325.9 357.1,317.4 352.8,319.5 348.5,320.6 344.3,329.1 340.0,339.8 338.9,320.0" fill="#e3e3e3" stroke="none"/>
<polygon points="297.3,281.2 299.8,282.3 301.5,291.9 304.7,316.8 307.5,323.2 309.6,308.3 311.8,301.9 314.5,322.0 317.1,341.4 319.2,302.9 321.4,333.9 323.5,302.9 325.2,324.3 326.9,292.3 328.8,312.6 331.0,282.6 333.1,273.7 335.2,279.0 337.4,296.5 340.6,309.4 342.7,299.7 344.7,290.5 344.7,316.5 342.7,325.7 340.6,335.4 337.4,322.5 335.2,305.0 333.1,299.7 331.0,308.6 328.8,338.6 326.9,318.3 325.2,350.3 323.5,328.9 321.4,359.9 319.2,328.9 317.1,367.4 314.5,348.0 311.8,327.9 309.6,334.3 307.5,349.2 304.7,342.8 301.5,317.9 299.8,308.3 297.3,307.2" fill="#e3e3e3" stroke="none"/>
<polygon points="328.0,280.0 331.2,274.5 333.8,266.8 336.4,274.5 337.5,290.0 332.0,292.0" fill="#e3e3e3" stroke="none"/>
<path d="M48.40 405.30C48.68 404.53 49.47 401.92 50.10 400.70C50.73 399.48 50.77 398.45 52.20 398.00C53.63 397.55 56.90 398.12 58.70 398.00C60.50 397.88 61.72 397.58 63.00 397.30C64.28 397.02 65.27 396.02 66.40 396.30C67.53 396.58 68.67 399.50 69.80 399.00C70.93 398.50 72.07 394.73 73.20 393.30C74.33 391.87 75.32 389.90 76.60 390.40C77.88 390.90 79.62 396.23 80.90 396.30C82.18 396.37 83.17 392.07 84.30 390.80C85.43 389.53 86.67 388.65 87.70 388.70C88.73 388.75 89.68 390.37 90.50 391.10C91.32 391.83 91.83 393.40 92.60 393.10C93.37 392.80 94.17 390.73 95.10 389.30C96.03 387.87 97.33 384.92 98.20 384.50C99.07 384.08 99.60 385.77 100.30 386.80C101.00 387.83 101.60 390.65 102.40 390.70C103.20 390.75 104.12 388.08 105.10 387.10C106.08 386.12 107.42 386.18 108.30 384.80C109.18 383.42 109.60 380.10 110.40 378.80C111.20 377.50 112.12 377.25 113.10 377.00C114.08 376.75 115.32 377.57 116.30 377.30C117.28 377.03 118.10 376.17 119.00 375.40C119.90 374.63 120.72 372.88 121.70 372.70C122.68 372.52 123.93 374.47 124.90 374.30C125.87 374.13 126.62 372.53 127.50 371.70C128.38 370.87 129.28 369.73 130.20 369.30C131.12 368.87 132.15 369.35 133.00 369.10C133.85 368.85 134.55 368.43 135.30 367.80C136.05 367.17 136.60 366.15 137.50 365.30C138.40 364.45 139.90 362.97 140.70 362.70C141.50 362.43 141.77 362.55 142.30 363.70C142.83 364.85 143.45 367.17 143.90 369.60C144.35 372.03 144.63 375.93 145.00 378.30C145.37 380.67 145.73 384.13 146.10 383.80C146.47 383.47 146.77 379.02 147.20 376.30C147.63 373.58 148.00 370.22 148.70 367.50C149.40 364.78 150.42 361.97 151.40 360.00C152.38 358.03 153.45 356.68 154.60 355.70C155.75 354.72 157.15 354.18 158.30 354.10C159.45 354.02 160.52 354.48 161.50 355.20C162.48 355.92 163.30 358.85 164.20 358.40C165.10 357.95 166.02 354.02 166.90 352.50C167.78 350.98 168.80 349.65 169.50 349.30C170.20 348.95 170.57 349.77 171.10 350.40C171.63 351.03 172.05 353.10 172.70 353.10C173.35 353.10 174.02 351.45 175.00 350.40C175.98 349.35 177.43 347.78 178.60 346.80C179.77 345.82 180.95 345.00 182.00 344.50C183.05 344.00 184.10 344.23 184.90 343.80C185.70 343.37 185.90 342.42 186.80 341.90C187.70 341.38 189.15 341.13 190.30 340.70C191.45 340.27 192.57 340.03 193.70 339.30C194.83 338.57 195.82 337.20 197.10 336.30C198.38 335.40 200.27 334.25 201.40 333.90C202.53 333.55 202.90 334.67 203.90 334.20C204.90 333.73 206.25 331.82 207.40 331.10C208.55 330.38 209.67 330.30 210.80 329.90C211.93 329.50 213.20 329.07 214.20 328.70C215.20 328.33 215.80 328.27 216.80 327.70C217.80 327.13 219.33 325.48 220.20 325.30C221.07 325.12 221.37 326.50 222.00 326.60C222.63 326.70 223.25 326.45 224.00 325.90C224.75 325.35 225.72 324.07 226.50 323.30C227.28 322.53 228.00 321.22 228.70 321.30C229.40 321.38 230.05 322.92 230.70 323.80C231.35 324.68 231.93 326.68 232.60 326.60C233.27 326.52 233.98 324.30 234.70 323.30C235.42 322.30 236.13 320.70 236.90 320.60C237.67 320.50 238.58 322.98 239.30 322.70C240.02 322.42 240.55 320.18 241.20 318.90C241.85 317.62 242.40 316.05 243.20 315.00C244.00 313.95 245.05 313.32 246.00 312.60C246.95 311.88 247.90 311.10 248.90 310.70C249.90 310.30 251.18 310.13 252.00 310.20C252.82 310.27 253.15 310.00 253.80 311.10C254.45 312.20 255.27 314.80 255.90 316.80C256.53 318.80 257.10 322.53 257.60 323.10C258.10 323.67 258.40 322.40 258.90 320.20C259.40 318.00 260.02 312.03 260.60 309.90C261.18 307.77 261.78 306.67 262.40 307.40C263.02 308.13 263.78 311.15 264.30 314.30C264.82 317.45 265.08 323.38 265.50 326.30C265.92 329.22 266.33 332.30 266.80 331.80C267.27 331.30 267.85 326.72 268.30 323.30C268.75 319.88 269.05 314.38 269.50 311.30C269.95 308.22 270.33 306.32 271.00 304.80C271.67 303.28 272.67 302.40 273.50 302.20C274.33 302.00 275.15 303.45 276.00 303.60C276.85 303.75 277.73 303.47 278.60 303.10C279.47 302.73 280.35 301.88 281.20 301.40C282.05 300.92 282.85 300.68 283.70 300.20C284.55 299.72 285.45 299.45 286.30 298.50C287.15 297.55 287.95 294.73 288.80 294.50C289.65 294.27 290.53 296.23 291.40 297.10C292.27 297.97 293.15 299.25 294.00 299.70C294.85 300.15 295.67 299.87 296.50 299.80C297.33 299.73 298.13 299.05 299.00 299.30C299.87 299.55 300.95 300.47 301.70 301.30C302.45 302.13 302.82 301.97 303.50 304.30C304.18 306.63 305.08 314.88 305.80 315.30C306.52 315.72 307.13 308.47 307.80 306.80C308.47 305.13 309.05 303.88 309.80 305.30C310.55 306.72 311.48 315.05 312.30 315.30C313.12 315.55 313.87 309.58 314.70 306.80C315.53 304.02 316.42 300.47 317.30 298.60C318.18 296.73 319.08 295.60 320.00 295.60C320.92 295.60 321.78 297.75 322.80 298.60C323.82 299.45 325.15 300.53 326.10 300.70C327.05 300.87 327.68 301.13 328.50 299.60C329.32 298.07 330.25 293.63 331.00 291.50C331.75 289.37 332.33 287.13 333.00 286.80C333.67 286.47 334.22 286.85 335.00 289.50C335.78 292.15 336.92 298.98 337.70 302.70C338.48 306.42 339.03 310.78 339.70 311.80C340.37 312.82 340.85 310.65 341.70 308.80C342.55 306.95 343.65 302.47 344.80 300.70C345.95 298.93 347.43 299.68 348.60 298.20C349.77 296.72 350.73 291.80 351.80 291.80C352.87 291.80 353.93 296.42 355.00 298.20C356.07 299.98 357.13 300.18 358.20 302.50C359.27 304.82 360.52 310.32 361.40 312.10C362.28 313.88 362.60 314.98 363.50 313.20C364.40 311.42 365.72 304.25 366.80 301.40C367.88 298.55 368.93 297.17 370.00 296.10C371.07 295.03 372.32 294.83 373.20 295.00C374.08 295.17 374.48 295.92 375.30 297.10C376.12 298.28 377.22 302.27 378.10 302.10C378.98 301.93 379.82 297.63 380.60 296.10C381.38 294.57 382.08 292.37 382.80 292.90C383.52 293.43 384.12 296.98 384.90 299.30C385.68 301.62 386.72 302.70 387.50 306.80C388.28 310.90 388.97 319.45 389.60 323.90C390.23 328.35 390.73 331.73 391.30 333.50C391.87 335.27 392.35 335.22 393.00 334.50C393.65 333.78 394.48 332.40 395.20 329.20C395.92 326.00 396.52 319.03 397.30 315.30C398.08 311.57 398.93 308.58 399.90 306.80C400.87 305.02 402.08 304.68 403.10 304.60C404.12 304.52 405.02 306.65 406.00 306.30C406.98 305.95 408.03 302.25 409.00 302.50C409.97 302.75 410.80 306.80 411.80 307.80C412.80 308.80 414.05 308.60 415.00 308.50C415.95 308.40 416.62 307.85 417.50 307.20C418.38 306.55 419.37 304.13 420.30 304.60C421.23 305.07 422.22 308.57 423.10 310.00C423.98 311.43 424.47 312.13 425.60 313.20C426.73 314.27 428.65 314.80 429.90 316.40C431.15 318.00 432.20 320.13 433.10 322.80C434.00 325.47 434.68 329.55 435.30 332.40C435.92 335.25 436.27 339.90 436.80 339.90C437.33 339.90 437.87 336.32 438.50 332.40C439.13 328.48 439.82 319.97 440.60 316.40C441.38 312.83 442.42 311.53 443.20 311.00C443.98 310.47 444.62 311.65 445.30 313.20C445.98 314.75 446.60 318.03 447.30 320.30C448.00 322.57 448.82 325.18 449.50 326.80C450.18 328.42 450.73 330.72 451.40 330.00C452.07 329.28 452.78 325.00 453.50 322.50C454.22 320.00 454.80 316.50 455.70 315.00C456.60 313.50 457.90 313.50 458.90 313.50C459.90 313.50 460.88 312.97 461.70 315.00C462.52 317.03 463.20 320.53 463.80 325.70C464.40 330.87 464.87 339.05 465.30 346.00C465.73 352.95 466.05 362.42 466.40 367.40C466.75 372.38 467.00 375.92 467.40 375.90C467.80 375.88 468.33 373.72 468.80 367.30C469.27 360.88 469.60 343.98 470.20 337.40C470.80 330.82 471.62 329.65 472.40 327.80C473.18 325.95 474.05 325.93 474.90 326.30C475.75 326.67 476.72 330.10 477.50 330.00C478.28 329.90 478.78 326.88 479.60 325.70C480.42 324.52 481.40 323.43 482.40 322.90C483.40 322.37 484.53 322.22 485.60 322.50C486.67 322.78 487.90 323.72 488.80 324.60C489.70 325.48 490.38 327.43 491.00 327.80C491.62 328.17 491.78 326.62 492.50 326.80C493.22 326.98 494.30 327.83 495.30 328.90C496.30 329.97 497.60 331.42 498.50 333.20C499.40 334.98 500.05 336.40 500.70 339.60C501.35 342.80 501.87 347.42 502.40 352.40C502.93 357.38 503.40 365.05 503.90 369.50C504.40 373.95 504.93 379.10 505.40 379.10C505.87 379.10 506.23 373.95 506.70 369.50C507.17 365.05 507.60 357.75 508.20 352.40C508.80 347.05 509.48 340.43 510.30 337.40C511.12 334.37 512.22 335.08 513.10 334.20C513.98 333.32 514.82 331.73 515.60 332.10C516.38 332.47 517.08 334.43 517.80 336.40C518.52 338.37 519.12 342.37 519.90 343.90C520.68 345.43 521.60 345.60 522.50 345.60C523.40 345.60 524.38 344.02 525.30 343.90C526.22 343.78 527.12 344.37 528.00 344.90C528.88 345.43 529.82 346.57 530.60 347.10C531.38 347.63 531.97 348.35 532.70 348.10C533.43 347.85 534.62 346.02 535.00 345.60" fill="none" stroke="#454545" stroke-width="1.2" stroke-linejoin="round"/>
<path d="M48.40 421.50C48.83 420.13 50.15 414.77 51.00 413.30C51.85 411.83 51.65 413.03 53.50 412.70C55.35 412.37 59.95 411.77 62.10 411.30C64.25 410.83 65.20 409.62 66.40 409.90C67.60 410.18 68.17 413.33 69.30 413.00C70.43 412.67 71.83 409.38 73.20 407.90C74.57 406.42 76.17 403.68 77.50 404.10C78.83 404.52 79.92 410.05 81.20 410.40C82.48 410.75 84.05 407.42 85.20 406.20C86.35 404.98 87.10 402.97 88.10 403.10C89.10 403.23 90.17 407.30 91.20 407.00C92.23 406.70 93.37 402.53 94.30 401.30C95.23 400.07 95.95 399.32 96.80 399.60C97.65 399.88 98.53 402.00 99.40 403.00C100.27 404.00 101.18 405.30 102.00 405.60C102.82 405.90 103.52 405.38 104.30 404.80C105.08 404.22 105.85 403.72 106.70 402.10C107.55 400.48 108.52 396.85 109.40 395.10C110.28 393.35 110.93 392.27 112.00 391.60C113.07 390.93 114.63 391.55 115.80 391.10C116.97 390.65 118.05 389.45 119.00 388.90C119.95 388.35 120.62 387.92 121.50 387.80C122.38 387.68 123.38 388.45 124.30 388.20C125.22 387.95 126.02 386.98 127.00 386.30C127.98 385.62 129.10 384.52 130.20 384.10C131.30 383.68 132.60 384.10 133.60 383.80C134.60 383.50 135.40 383.15 136.20 382.30C137.00 381.45 137.60 379.43 138.40 378.70C139.20 377.97 140.15 377.18 141.00 377.90C141.85 378.62 142.78 380.43 143.50 383.00C144.22 385.57 144.78 390.60 145.30 393.30C145.82 396.00 146.10 399.78 146.60 399.20C147.10 398.62 147.67 393.35 148.30 389.80C148.93 386.25 149.62 380.60 150.40 377.90C151.18 375.20 152.00 374.75 153.00 373.60C154.00 372.45 155.33 371.57 156.40 371.00C157.47 370.43 158.47 369.98 159.40 370.20C160.33 370.42 161.20 371.42 162.00 372.30C162.80 373.18 163.48 375.23 164.20 375.50C164.92 375.77 165.58 375.18 166.30 373.90C167.02 372.62 167.70 369.05 168.50 367.80C169.30 366.55 170.30 366.27 171.10 366.40C171.90 366.53 172.65 368.60 173.30 368.60C173.95 368.60 174.38 367.12 175.00 366.40C175.62 365.68 176.12 365.30 177.00 364.30C177.88 363.30 178.98 361.22 180.30 360.40C181.62 359.58 183.67 359.92 184.90 359.40C186.13 358.88 186.52 357.80 187.70 357.30C188.88 356.80 190.72 356.83 192.00 356.40C193.28 355.97 194.27 355.42 195.40 354.70C196.53 353.98 197.80 352.82 198.80 352.10C199.80 351.38 200.55 350.68 201.40 350.40C202.25 350.12 202.90 350.77 203.90 350.40C204.90 350.03 206.12 348.85 207.40 348.20C208.68 347.55 210.18 346.98 211.60 346.50C213.02 346.02 214.47 345.87 215.90 345.30C217.33 344.73 219.18 343.25 220.20 343.10C221.22 342.95 221.37 344.28 222.00 344.40C222.63 344.52 223.28 344.28 224.00 343.80C224.72 343.32 225.52 342.25 226.30 341.50C227.08 340.75 227.97 339.25 228.70 339.30C229.43 339.35 230.05 340.88 230.70 341.80C231.35 342.72 231.93 344.88 232.60 344.80C233.27 344.72 233.98 342.33 234.70 341.30C235.42 340.27 236.13 338.73 236.90 338.60C237.67 338.47 238.58 340.75 239.30 340.50C240.02 340.25 240.55 338.38 241.20 337.10C241.85 335.82 242.40 333.83 243.20 332.80C244.00 331.77 245.05 331.53 246.00 330.90C246.95 330.27 247.90 329.48 248.90 329.00C249.90 328.52 250.90 327.33 252.00 328.00C253.10 328.67 254.57 331.03 255.50 333.00C256.43 334.97 256.97 340.08 257.60 339.80C258.23 339.52 258.65 334.00 259.30 331.30C259.95 328.60 260.85 324.45 261.50 323.60C262.15 322.75 262.72 324.35 263.20 326.20C263.68 328.05 263.97 331.72 264.40 334.70C264.83 337.68 265.35 341.97 265.80 344.10C266.25 346.23 266.68 349.07 267.10 347.50C267.52 345.93 267.82 338.83 268.30 334.70C268.78 330.57 269.42 325.48 270.00 322.70C270.58 319.92 271.05 319.07 271.80 318.00C272.55 316.93 273.55 317.00 274.50 316.30C275.45 315.60 276.53 314.50 277.50 313.80C278.47 313.10 279.40 312.75 280.30 312.10C281.20 311.45 281.90 310.68 282.90 309.90C283.90 309.12 285.20 308.50 286.30 307.40C287.40 306.30 288.50 303.45 289.50 303.30C290.50 303.15 291.47 305.58 292.30 306.50C293.13 307.42 293.88 308.25 294.50 308.80C295.12 309.35 295.07 309.47 296.00 309.80C296.93 310.13 298.92 310.28 300.10 310.80C301.28 311.32 302.27 311.03 303.10 312.90C303.93 314.77 304.42 321.27 305.10 322.00C305.78 322.73 306.52 318.32 307.20 317.30C307.88 316.28 308.42 314.62 309.20 315.90C309.98 317.18 311.05 324.67 311.90 325.00C312.75 325.33 313.57 320.60 314.30 317.90C315.03 315.20 315.62 311.17 316.30 308.80C316.98 306.43 317.55 305.05 318.40 303.70C319.25 302.35 320.38 301.20 321.40 300.70C322.42 300.20 323.48 300.37 324.50 300.70C325.52 301.03 326.48 304.40 327.50 302.70C328.52 301.00 329.68 293.38 330.60 290.50C331.52 287.62 332.27 285.73 333.00 285.40C333.73 285.07 334.22 285.78 335.00 288.50C335.78 291.22 336.92 298.15 337.70 301.70C338.48 305.25 338.93 309.63 339.70 309.80C340.47 309.97 341.45 304.73 342.30 302.70C343.15 300.67 344.18 298.70 344.80 297.60C345.42 296.50 345.18 297.42 346.00 296.10C346.82 294.78 348.73 291.48 349.70 289.70C350.67 287.92 351.10 285.40 351.80 285.40C352.50 285.40 353.28 288.30 353.90 289.70C354.52 291.10 354.78 292.20 355.50 293.80C356.22 295.40 357.22 297.13 358.20 299.30C359.18 301.47 360.52 305.38 361.40 306.80C362.28 308.22 362.60 309.58 363.50 307.80C364.40 306.02 365.72 298.95 366.80 296.10C367.88 293.25 368.93 291.77 370.00 290.70C371.07 289.63 372.32 289.52 373.20 289.70C374.08 289.88 374.48 290.38 375.30 291.80C376.12 293.22 377.22 298.20 378.10 298.20C378.98 298.20 379.82 293.30 380.60 291.80C381.38 290.30 382.08 288.13 382.80 289.20C383.52 290.27 384.12 295.27 384.90 298.20C385.68 301.13 386.72 302.70 387.50 306.80C388.28 310.90 388.97 318.72 389.60 322.80C390.23 326.88 390.73 329.70 391.30 331.30C391.87 332.90 392.35 333.10 393.00 332.40C393.65 331.70 394.48 330.30 395.20 327.10C395.92 323.90 396.52 316.87 397.30 313.20C398.08 309.53 399.05 306.82 399.90 305.10C400.75 303.38 401.38 302.55 402.40 302.90C403.42 303.25 404.90 307.33 406.00 307.20C407.10 307.07 408.03 301.88 409.00 302.10C409.97 302.32 410.80 307.37 411.80 308.50C412.80 309.63 414.05 309.02 415.00 308.90C415.95 308.78 416.62 308.23 417.50 307.80C418.38 307.37 419.37 305.58 420.30 306.30C421.23 307.02 422.22 310.42 423.10 312.10C423.98 313.78 424.47 314.97 425.60 316.40C426.73 317.83 428.65 318.92 429.90 320.70C431.15 322.48 432.20 324.43 433.10 327.10C434.00 329.77 434.68 333.85 435.30 336.70C435.92 339.55 436.27 343.85 436.80 344.20C437.33 344.55 437.87 342.55 438.50 338.80C439.13 335.05 439.82 325.43 440.60 321.70C441.38 317.97 442.42 316.93 443.20 316.40C443.98 315.87 444.60 316.85 445.30 318.50C446.00 320.15 446.73 323.92 447.40 326.30C448.07 328.68 448.63 331.30 449.30 332.80C449.97 334.30 450.70 336.48 451.40 335.30C452.10 334.12 452.78 328.48 453.50 325.70C454.22 322.92 454.80 320.03 455.70 318.60C456.60 317.17 457.90 317.70 458.90 317.10C459.90 316.50 460.88 313.75 461.70 315.00C462.52 316.25 463.20 319.43 463.80 324.60C464.40 329.77 464.87 338.87 465.30 346.00C465.73 353.13 466.05 362.13 466.40 367.40C466.75 372.67 467.00 378.28 467.40 377.60C467.80 376.92 468.33 370.52 468.80 363.30C469.27 356.08 469.60 340.38 470.20 334.30C470.80 328.22 471.62 328.13 472.40 326.80C473.18 325.47 474.05 325.95 474.90 326.30C475.75 326.65 476.72 329.25 477.50 328.90C478.28 328.55 478.78 325.55 479.60 324.20C480.42 322.85 481.40 321.52 482.40 320.80C483.40 320.08 484.53 319.80 485.60 319.90C486.67 320.00 487.98 320.83 488.80 321.40C489.62 321.97 489.95 322.77 490.50 323.30C491.05 323.83 491.47 324.67 492.10 324.60C492.73 324.53 493.40 322.53 494.30 322.90C495.20 323.27 496.50 325.27 497.50 326.80C498.50 328.33 499.48 328.90 500.30 332.10C501.12 335.30 501.80 340.48 502.40 346.00C503.00 351.52 503.40 360.40 503.90 365.20C504.40 370.00 504.87 375.52 505.40 374.80C505.93 374.08 506.47 366.77 507.10 360.90C507.73 355.03 508.48 344.93 509.20 339.60C509.92 334.27 510.62 331.03 511.40 328.90C512.18 326.77 513.02 327.52 513.90 326.80C514.78 326.08 515.88 324.25 516.70 324.60C517.52 324.95 518.08 327.30 518.80 328.90C519.52 330.50 520.10 333.48 521.00 334.20C521.90 334.92 523.13 333.55 524.20 333.20C525.27 332.85 526.40 332.03 527.40 332.10C528.40 332.17 529.38 333.13 530.20 333.60C531.02 334.07 531.50 335.33 532.30 334.90C533.10 334.47 534.55 331.65 535.00 331.00" fill="none" stroke="#ff3dff" stroke-width="1.15" stroke-linejoin="round"/>
<polyline points="86.8,403.0 88.8,387.3 90.9,393.6 93.1,386.8 95.2,384.0 97.4,378.2 99.9,369.7 102.2,365.0 103.9,401.3 105.9,396.2 108.0,386.8 110.2,380.8 112.4,378.7 114.5,381.6 117.0,380.0 119.3,378.7 121.3,373.9 123.4,379.9 126.1,385.0 128.5,380.8 130.2,373.9 131.8,357.7 134.4,381.2 136.5,375.9 138.7,379.1 140.8,392.9 143.0,384.4 145.1,367.3 147.7,360.9 149.4,363.0 151.5,357.7 153.6,342.7 155.8,336.3 157.9,331.0 160.1,344.9 162.2,321.4 164.3,335.3 166.5,351.3 168.6,349.1 170.7,360.9" fill="none" stroke="#ff4a4a" stroke-width="1.2" stroke-linejoin="round"/>
<rect x="85.9" y="402.1" width="1.8" height="1.8" fill="#f01818"/>
<rect x="87.9" y="386.4" width="1.8" height="1.8" fill="#f01818"/>
<rect x="90.0" y="392.7" width="1.8" height="1.8" fill="#f01818"/>
<rect x="92.2" y="385.9" width="1.8" height="1.8" fill="#f01818"/>
<rect x="94.3" y="383.1" width="1.8" height="1.8" fill="#f01818"/>
<rect x="96.5" y="377.3" width="1.8" height="1.8" fill="#f01818"/>
<rect x="99.0" y="368.8" width="1.8" height="1.8" fill="#f01818"/>
<rect x="101.3" y="364.1" width="1.8" height="1.8" fill="#f01818"/>
<rect x="103.0" y="400.4" width="1.8" height="1.8" fill="#f01818"/>
<rect x="105.0" y="395.3" width="1.8" height="1.8" fill="#f01818"/>
<rect x="107.1" y="385.9" width="1.8" height="1.8" fill="#f01818"/>
<rect x="109.3" y="379.9" width="1.8" height="1.8" fill="#f01818"/>
<rect x="111.5" y="377.8" width="1.8" height="1.8" fill="#f01818"/>
<rect x="113.6" y="380.7" width="1.8" height="1.8" fill="#f01818"/>
<rect x="116.1" y="379.1" width="1.8" height="1.8" fill="#f01818"/>
<rect x="118.4" y="377.8" width="1.8" height="1.8" fill="#f01818"/>
<rect x="120.4" y="373.0" width="1.8" height="1.8" fill="#f01818"/>
<rect x="122.5" y="379.0" width="1.8" height="1.8" fill="#f01818"/>
<rect x="125.2" y="384.1" width="1.8" height="1.8" fill="#f01818"/>
<rect x="127.6" y="379.9" width="1.8" height="1.8" fill="#f01818"/>
<rect x="129.3" y="373.0" width="1.8" height="1.8" fill="#f01818"/>
<rect x="130.9" y="356.8" width="1.8" height="1.8" fill="#f01818"/>
<rect x="133.5" y="380.3" width="1.8" height="1.8" fill="#f01818"/>
<rect x="135.6" y="375.0" width="1.8" height="1.8" fill="#f01818"/>
<rect x="137.8" y="378.2" width="1.8" height="1.8" fill="#f01818"/>
<rect x="139.9" y="392.0" width="1.8" height="1.8" fill="#f01818"/>
<rect x="142.1" y="383.5" width="1.8" height="1.8" fill="#f01818"/>
<rect x="144.2" y="366.4" width="1.8" height="1.8" fill="#f01818"/>
<rect x="146.8" y="360.0" width="1.8" height="1.8" fill="#f01818"/>
<rect x="148.5" y="362.1" width="1.8" height="1.8" fill="#f01818"/>
<rect x="150.6" y="356.8" width="1.8" height="1.8" fill="#f01818"/>
<rect x="152.7" y="341.8" width="1.8" height="1.8" fill="#f01818"/>
<rect x="154.9" y="335.4" width="1.8" height="1.8" fill="#f01818"/>
<rect x="157.0" y="330.1" width="1.8" height="1.8" fill="#f01818"/>
<rect x="159.2" y="344.0" width="1.8" height="1.8" fill="#f01818"/>
<rect x="161.3" y="320.5" width="1.8" height="1.8" fill="#f01818"/>
<rect x="163.4" y="334.4" width="1.8" height="1.8" fill="#f01818"/>
<rect x="165.6" y="350.4" width="1.8" height="1.8" fill="#f01818"/>
<rect x="167.7" y="348.2" width="1.8" height="1.8" fill="#f01818"/>
<rect x="169.8" y="360.0" width="1.8" height="1.8" fill="#f01818"/>
<polyline points="267.9,314.7 269.6,316.5 271.6,304.0 273.8,284.2 275.7,278.8 277.6,273.0 279.5,285.2 281.5,276.2 283.7,274.5 285.6,290.6 287.6,285.5 289.5,280.1 291.7,275.6 293.6,288.4 295.5,303.8 297.3,294.2 299.8,295.3 301.5,304.9 304.7,329.8 307.5,336.2 309.6,321.3 311.8,314.9 314.5,335.0 317.1,354.4 319.2,315.9 321.4,346.9 323.5,315.9 325.2,337.3 326.9,305.3 328.8,325.6 331.0,295.6 333.1,286.7 335.2,292.0 337.4,309.5 340.6,322.4 342.7,312.7 344.7,303.5 346.8,305.6 349.0,302.4 351.8,303.5 353.9,297.1 356.0,292.8 358.2,299.2 360.3,302.4 362.4,306.7 364.5,302.0 366.7,297.1 368.8,294.9 371.0,294.9 372.8,293.0 374.6,286.4 376.3,288.5 378.5,285.3 379.5,292.8 381.7,285.3 383.8,291.7 385.9,299.2 388.2,306.2 390.3,317.7 392.8,313.8 395.4,311.3 398.0,304.9 400.0,298.5 401.8,335.6 404.4,328.0 406.9,324.1 408.7,331.8" fill="none" stroke="#ff4a4a" stroke-width="1.2" stroke-linejoin="round"/>
<rect x="267.0" y="313.8" width="1.8" height="1.8" fill="#f01818"/>
<rect x="268.7" y="315.6" width="1.8" height="1.8" fill="#f01818"/>
<rect x="270.7" y="303.1" width="1.8" height="1.8" fill="#f01818"/>
<rect x="272.9" y="283.3" width="1.8" height="1.8" fill="#f01818"/>
<rect x="274.8" y="277.9" width="1.8" height="1.8" fill="#f01818"/>
<rect x="276.7" y="272.1" width="1.8" height="1.8" fill="#f01818"/>
<rect x="278.6" y="284.3" width="1.8" height="1.8" fill="#f01818"/>
<rect x="280.6" y="275.3" width="1.8" height="1.8" fill="#f01818"/>
<rect x="282.8" y="273.6" width="1.8" height="1.8" fill="#f01818"/>
<rect x="284.7" y="289.7" width="1.8" height="1.8" fill="#f01818"/>
<rect x="286.7" y="284.6" width="1.8" height="1.8" fill="#f01818"/>
<rect x="288.6" y="279.2" width="1.8" height="1.8" fill="#f01818"/>
<rect x="290.8" y="274.7" width="1.8" height="1.8" fill="#f01818"/>
<rect x="292.7" y="287.5" width="1.8" height="1.8" fill="#f01818"/>
<rect x="294.6" y="302.9" width="1.8" height="1.8" fill="#f01818"/>
<rect x="296.4" y="293.3" width="1.8" height="1.8" fill="#f01818"/>
<rect x="298.9" y="294.4" width="1.8" height="1.8" fill="#f01818"/>
<rect x="300.6" y="304.0" width="1.8" height="1.8" fill="#f01818"/>
<rect x="303.8" y="328.9" width="1.8" height="1.8" fill="#f01818"/>
<rect x="306.6" y="335.3" width="1.8" height="1.8" fill="#f01818"/>
<rect x="308.7" y="320.4" width="1.8" height="1.8" fill="#f01818"/>
<rect x="310.9" y="314.0" width="1.8" height="1.8" fill="#f01818"/>
<rect x="313.6" y="334.1" width="1.8" height="1.8" fill="#f01818"/>
<rect x="316.2" y="353.5" width="1.8" height="1.8" fill="#f01818"/>
<rect x="318.3" y="315.0" width="1.8" height="1.8" fill="#f01818"/>
<rect x="320.5" y="346.0" width="1.8" height="1.8" fill="#f01818"/>
<rect x="322.6" y="315.0" width="1.8" height="1.8" fill="#f01818"/>
<rect x="324.3" y="336.4" width="1.8" height="1.8" fill="#f01818"/>
<rect x="326.0" y="304.4" width="1.8" height="1.8" fill="#f01818"/>
<rect x="327.9" y="324.7" width="1.8" height="1.8" fill="#f01818"/>
<rect x="330.1" y="294.7" width="1.8" height="1.8" fill="#f01818"/>
<rect x="332.2" y="285.8" width="1.8" height="1.8" fill="#f01818"/>
<rect x="334.3" y="291.1" width="1.8" height="1.8" fill="#f01818"/>
<rect x="336.5" y="308.6" width="1.8" height="1.8" fill="#f01818"/>
<rect x="339.7" y="321.5" width="1.8" height="1.8" fill="#f01818"/>
<rect x="341.8" y="311.8" width="1.8" height="1.8" fill="#f01818"/>
<rect x="343.8" y="302.6" width="1.8" height="1.8" fill="#f01818"/>
<rect x="345.9" y="304.7" width="1.8" height="1.8" fill="#f01818"/>
<rect x="348.1" y="301.5" width="1.8" height="1.8" fill="#f01818"/>
<rect x="350.9" y="302.6" width="1.8" height="1.8" fill="#f01818"/>
<rect x="353.0" y="296.2" width="1.8" height="1.8" fill="#f01818"/>
<rect x="355.1" y="291.9" width="1.8" height="1.8" fill="#f01818"/>
<rect x="357.3" y="298.3" width="1.8" height="1.8" fill="#f01818"/>
<rect x="359.4" y="301.5" width="1.8" height="1.8" fill="#f01818"/>
<rect x="361.5" y="305.8" width="1.8" height="1.8" fill="#f01818"/>
<rect x="363.6" y="301.1" width="1.8" height="1.8" fill="#f01818"/>
<rect x="365.8" y="296.2" width="1.8" height="1.8" fill="#f01818"/>
<rect x="367.9" y="294.0" width="1.8" height="1.8" fill="#f01818"/>
<rect x="370.1" y="294.0" width="1.8" height="1.8" fill="#f01818"/>
<rect x="371.9" y="292.1" width="1.8" height="1.8" fill="#f01818"/>
<rect x="373.7" y="285.5" width="1.8" height="1.8" fill="#f01818"/>
<rect x="375.4" y="287.6" width="1.8" height="1.8" fill="#f01818"/>
<rect x="377.6" y="284.4" width="1.8" height="1.8" fill="#f01818"/>
<rect x="378.6" y="291.9" width="1.8" height="1.8" fill="#f01818"/>
<rect x="380.8" y="284.4" width="1.8" height="1.8" fill="#f01818"/>
<rect x="382.9" y="290.8" width="1.8" height="1.8" fill="#f01818"/>
<rect x="385.0" y="298.3" width="1.8" height="1.8" fill="#f01818"/>
<rect x="387.3" y="305.3" width="1.8" height="1.8" fill="#f01818"/>
<rect x="389.4" y="316.8" width="1.8" height="1.8" fill="#f01818"/>
<rect x="391.9" y="312.9" width="1.8" height="1.8" fill="#f01818"/>
<rect x="394.5" y="310.4" width="1.8" height="1.8" fill="#f01818"/>
<rect x="397.1" y="304.0" width="1.8" height="1.8" fill="#f01818"/>
<rect x="399.1" y="297.6" width="1.8" height="1.8" fill="#f01818"/>
<rect x="400.9" y="334.7" width="1.8" height="1.8" fill="#f01818"/>
<rect x="403.5" y="327.1" width="1.8" height="1.8" fill="#f01818"/>
<rect x="406.0" y="323.2" width="1.8" height="1.8" fill="#f01818"/>
<rect x="407.8" y="330.9" width="1.8" height="1.8" fill="#f01818"/>
<rect x="48.5" y="256.8" width="486.8" height="178.9" fill="none" stroke="#959595" stroke-width="1"/>
<path d="M48.50 435.70000000000005v-5M48.50 256.8v5M59.32 435.70000000000005v-2.5M59.32 256.8v2.5M70.14 435.70000000000005v-2.5M70.14 256.8v2.5M80.95 435.70000000000005v-2.5M80.95 256.8v2.5M91.77 435.70000000000005v-2.5M91.77 256.8v2.5M102.59 435.70000000000005v-5M102.59 256.8v5M113.41 435.70000000000005v-2.5M113.41 256.8v2.5M124.22 435.70000000000005v-2.5M124.22 256.8v2.5M135.04 435.70000000000005v-2.5M135.04 256.8v2.5M145.86 435.70000000000005v-2.5M145.86 256.8v2.5M156.68 435.70000000000005v-5M156.68 256.8v5M167.50 435.70000000000005v-2.5M167.50 256.8v2.5M178.31 435.70000000000005v-2.5M178.31 256.8v2.5M189.13 435.70000000000005v-2.5M189.13 256.8v2.5M199.95 435.70000000000005v-2.5M199.95 256.8v2.5M210.77 435.70000000000005v-5M210.77 256.8v5M221.58 435.70000000000005v-2.5M221.58 256.8v2.5M232.40 435.70000000000005v-2.5M232.40 256.8v2.5M243.22 435.70000000000005v-2.5M243.22 256.8v2.5M254.04 435.70000000000005v-2.5M254.04 256.8v2.5M264.86 435.70000000000005v-5M264.86 256.8v5M275.67 435.70000000000005v-2.5M275.67 256.8v2.5M286.49 435.70000000000005v-2.5M286.49 256.8v2.5M297.31 435.70000000000005v-2.5M297.31 256.8v2.5M308.13 435.70000000000005v-2.5M308.13 256.8v2.5M318.94 435.70000000000005v-5M318.94 256.8v5M329.76 435.70000000000005v-2.5M329.76 256.8v2.5M340.58 435.70000000000005v-2.5M340.58 256.8v2.5M351.40 435.70000000000005v-2.5M351.40 256.8v2.5M362.22 435.70000000000005v-2.5M362.22 256.8v2.5M373.03 435.70000000000005v-5M373.03 256.8v5M383.85 435.70000000000005v-2.5M383.85 256.8v2.5M394.67 435.70000000000005v-2.5M394.67 256.8v2.5M405.49 435.70000000000005v-2.5M405.49 256.8v2.5M416.30 435.70000000000005v-2.5M416.30 256.8v2.5M427.12 435.70000000000005v-5M427.12 256.8v5M437.94 435.70000000000005v-2.5M437.94 256.8v2.5M448.76 435.70000000000005v-2.5M448.76 256.8v2.5M459.58 435.70000000000005v-2.5M459.58 256.8v2.5M470.39 435.70000000000005v-2.5M470.39 256.8v2.5M481.21 435.70000000000005v-5M481.21 256.8v5M492.03 435.70000000000005v-2.5M492.03 256.8v2.5M502.85 435.70000000000005v-2.5M502.85 256.8v2.5M513.66 435.70000000000005v-2.5M513.66 256.8v2.5M524.48 435.70000000000005v-2.5M524.48 256.8v2.5M535.30 435.70000000000005v-5M535.30 256.8v5M48.5 256.80h5M535.3 256.80h-5M48.5 261.27h2.5M535.3 261.27h-2.5M48.5 265.75h2.5M535.3 265.75h-2.5M48.5 270.22h2.5M535.3 270.22h-2.5M48.5 274.69h2.5M535.3 274.69h-2.5M48.5 279.16h5M535.3 279.16h-5M48.5 283.63h2.5M535.3 283.63h-2.5M48.5 288.11h2.5M535.3 288.11h-2.5M48.5 292.58h2.5M535.3 292.58h-2.5M48.5 297.05h2.5M535.3 297.05h-2.5M48.5 301.53h5M535.3 301.53h-5M48.5 306.00h2.5M535.3 306.00h-2.5M48.5 310.47h2.5M535.3 310.47h-2.5M48.5 314.94h2.5M535.3 314.94h-2.5M48.5 319.42h2.5M535.3 319.42h-2.5M48.5 323.89h5M535.3 323.89h-5M48.5 328.36h2.5M535.3 328.36h-2.5M48.5 332.83h2.5M535.3 332.83h-2.5M48.5 337.31h2.5M535.3 337.31h-2.5M48.5 341.78h2.5M535.3 341.78h-2.5M48.5 346.25h5M535.3 346.25h-5M48.5 350.72h2.5M535.3 350.72h-2.5M48.5 355.20h2.5M535.3 355.20h-2.5M48.5 359.67h2.5M535.3 359.67h-2.5M48.5 364.14h2.5M535.3 364.14h-2.5M48.5 368.61h5M535.3 368.61h-5M48.5 373.09h2.5M535.3 373.09h-2.5M48.5 377.56h2.5M535.3 377.56h-2.5M48.5 382.03h2.5M535.3 382.03h-2.5M48.5 386.50h2.5M535.3 386.50h-2.5M48.5 390.98h5M535.3 390.98h-5M48.5 395.45h2.5M535.3 395.45h-2.5M48.5 399.92h2.5M535.3 399.92h-2.5M48.5 404.39h2.5M535.3 404.39h-2.5M48.5 408.87h2.5M535.3 408.87h-2.5M48.5 413.34h5M535.3 413.34h-5M48.5 417.81h2.5M535.3 417.81h-2.5M48.5 422.28h2.5M535.3 422.28h-2.5M48.5 426.76h2.5M535.3 426.76h-2.5M48.5 431.23h2.5M535.3 431.23h-2.5M48.5 435.70h5M535.3 435.70h-5" stroke="#a0a0a0" stroke-width="0.9" fill="none"/>
<text x="48.5" y="446.9" text-anchor="middle" class="tk">1100</text>
<text x="102.6" y="446.9" text-anchor="middle" class="tk">1200</text>
<text x="156.7" y="446.9" text-anchor="middle" class="tk">1300</text>
<text x="210.8" y="446.9" text-anchor="middle" class="tk">1400</text>
<text x="264.9" y="446.9" text-anchor="middle" class="tk">1500</text>
<text x="318.9" y="446.9" text-anchor="middle" class="tk">1600</text>
<text x="373.0" y="446.9" text-anchor="middle" class="tk">1700</text>
<text x="427.1" y="446.9" text-anchor="middle" class="tk">1800</text>
<text x="481.2" y="446.9" text-anchor="middle" class="tk">1900</text>
<text x="535.3" y="446.9" text-anchor="middle" class="tk">2000</text>
<text x="44.9" y="260.3" text-anchor="end" class="tk">6500</text>
<text x="44.9" y="282.7" text-anchor="end" class="tk">6400</text>
<text x="44.9" y="305.0" text-anchor="end" class="tk">6300</text>
<text x="44.9" y="327.4" text-anchor="end" class="tk">6200</text>
<text x="44.9" y="349.8" text-anchor="end" class="tk">6100</text>
<text x="44.9" y="372.1" text-anchor="end" class="tk">6000</text>
<text x="44.9" y="394.5" text-anchor="end" class="tk">5900</text>
<text x="44.9" y="416.8" text-anchor="end" class="tk">5800</text>
<text x="44.9" y="439.2" text-anchor="end" class="tk">5700</text>
<text transform="translate(15.5,346.1) rotate(-90)" text-anchor="middle" class="yt">Brightness Temperature of the Sun [K]</text>
<text x="278.1" y="459.8" style="font-family:Liberation Sans,sans-serif;font-size:10.3px;fill:#333;stroke-width:0">&#955;</text>
<text x="287.2" y="459.1" class="xt">[nm]</text>
<rect x="360.3" y="397.8" width="170.3" height="32.6" fill="#fff" stroke="#9a9a9a" stroke-width="0.9"/>
<line x1="363" y1="404.0" x2="381.7" y2="404.0" stroke="#ff7a7a" stroke-width="1.5"/>
<rect x="371.5" y="403.2" width="1.6" height="1.6" fill="#f01818"/>
<text x="383.76" y="407.0" class="lg" font-size="7.95px" letter-spacing="0.2">Uvsq-Sat NG Spectrometer - Method 2</text>
<line x1="363" y1="414.3" x2="381.7" y2="414.3" stroke="#8c8c8c" stroke-width="1.5"/>
<text x="384.24" y="417.3" class="lg" font-size="7.95px">SOLAR-HRS (7 nm) - air</text>
<line x1="363" y1="424.3" x2="381.7" y2="424.3" stroke="#ff90ff" stroke-width="1.5"/>
<text x="384.24" y="427.3" class="lg" font-size="7.95px">TSIS-1 HSRS (7 nm) - air</text>
</svg>
</body></html>
